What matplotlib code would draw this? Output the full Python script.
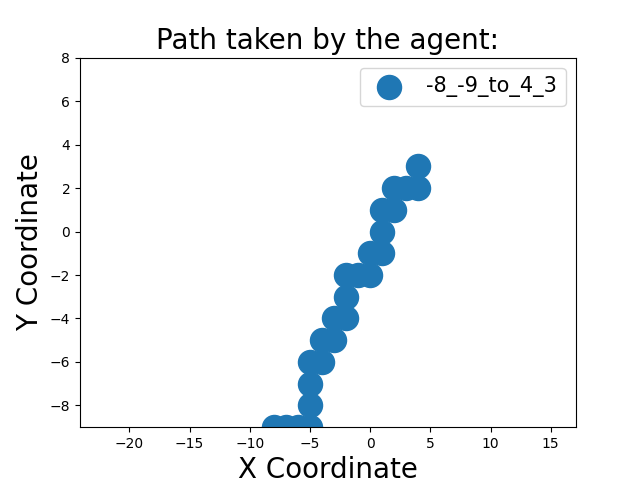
import matplotlib.pyplot as plt

# Path of the agent
xs = [-8, -7, -6, -5, -5, -5, -5, -4, -4, -3, -3, -2, -2, -2, -1, 0, 0, 1, 1, 1, 2, 2, 3, 4, 4]
ys = [-9, -9, -9, -9, -8, -7, -6, -6, -5, -5, -4, -4, -3, -2, -2, -2, -1, -1, 0, 1, 1, 2, 2, 2, 3]
label = '-8_-9_to_4_3'

plt.figure(figsize=(6.4, 4.8), dpi=100)
plt.scatter(xs, ys, s=300, label=label)
plt.xlim(-24.1, 17.1)
plt.ylim(-9, 8)
plt.title('Path taken by the agent:', fontsize=20)
plt.xlabel('X Coordinate', fontsize=20)
plt.ylabel('Y Coordinate', fontsize=20)
plt.legend(fontsize=15)

plt.savefig('out.png')
